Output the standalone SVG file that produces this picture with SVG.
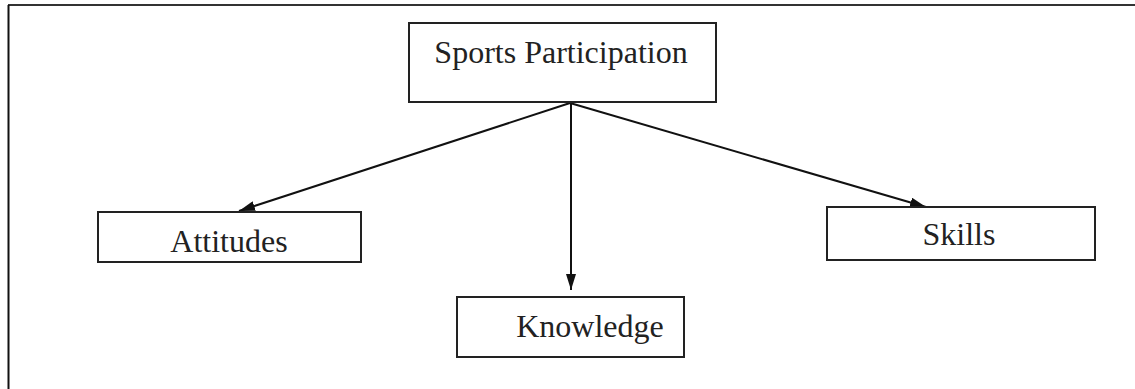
<svg xmlns="http://www.w3.org/2000/svg" width="1135" height="389" viewBox="0 0 1135 389">
<defs>
<style>
.box{fill:#fff;stroke:#222;stroke-width:2}
.lbl{font-family:"Liberation Serif","Times New Roman",serif;font-size:32px;fill:#222}
.edge{stroke:#111;stroke-width:2;fill:none}
</style>
<marker id="ah" viewBox="0 0 16 10" refX="16" refY="5" markerWidth="16" markerHeight="10" markerUnits="userSpaceOnUse" orient="auto">
<path d="M0,0 L16,5 L0,10 Z" fill="#111"/>
</marker>
</defs>
<rect width="1135" height="389" fill="#fff"/>
<g id="frame">
<line x1="8" y1="5" x2="1135" y2="5" stroke="#333" stroke-width="2"/>
<line x1="8.5" y1="5" x2="8.5" y2="389" stroke="#111" stroke-width="2"/>
</g>
<g id="connectors">
<line class="edge" x1="570" y1="103" x2="239" y2="211" marker-end="url(#ah)"/>
<line class="edge" x1="571" y1="103" x2="571" y2="290" marker-end="url(#ah)"/>
<line class="edge" x1="570" y1="103" x2="926" y2="207" marker-end="url(#ah)"/>
</g>
<g id="sports">
<rect class="box" x="409" y="23" width="307" height="79"/>
<text class="lbl" x="561" y="63" text-anchor="middle">Sports Participation</text>
</g>
<g id="attitudes">
<rect class="box" x="98" y="212" width="263" height="50"/>
<text class="lbl" x="229" y="252" text-anchor="middle">Attitudes</text>
</g>
<g id="knowledge">
<rect class="box" x="457" y="297" width="227" height="60"/>
<text class="lbl" x="590" y="337" text-anchor="middle">Knowledge</text>
</g>
<g id="skills">
<rect class="box" x="827" y="207" width="268" height="53"/>
<text class="lbl" x="959" y="245" text-anchor="middle">Skills</text>
</g>
</svg>
